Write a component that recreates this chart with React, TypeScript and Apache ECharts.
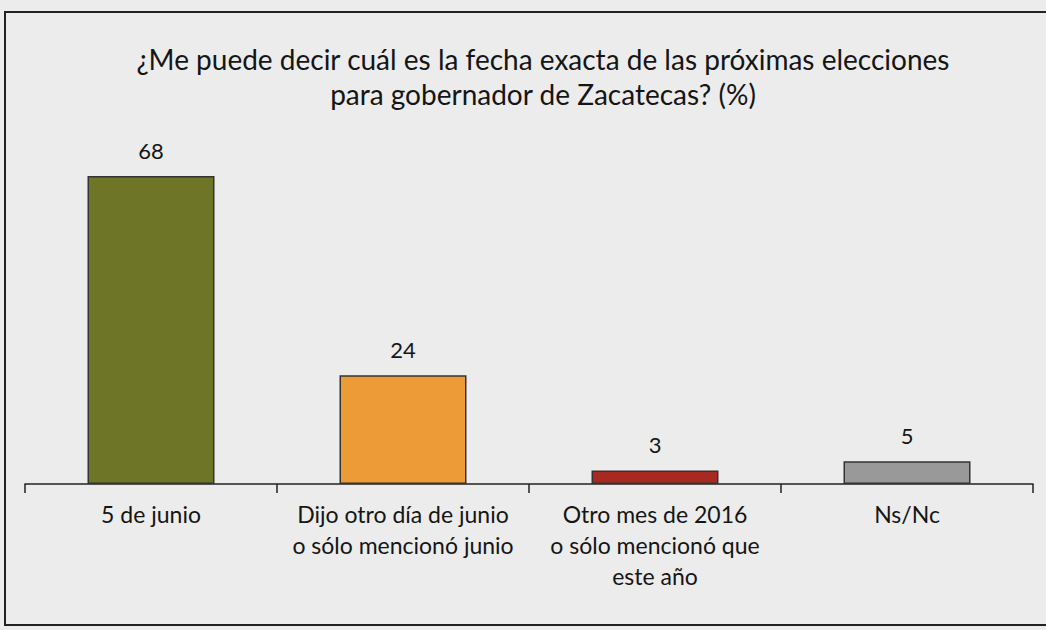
import React, { useEffect, useRef } from "react";
import * as echarts from "echarts";

const titleLines = [
  "¿Me puede decir cuál es la fecha exacta de las próximas elecciones",
  "para gobernador de Zacatecas? (%)",
];
const categories = [
  "5 de junio",
  "Dijo otro día de junio\no sólo mencionó junio",
  "Otro mes de 2016\no sólo mencionó que\neste año",
  "Ns/Nc",
];
const values = [68, 24, 3, 5];
const barColors = ["#6e7527", "#ec9b36", "#a8291f", "#999999"];

export default function App() {
  const ref = useRef<HTMLDivElement>(null);
  useEffect(() => {
    document.body.style.margin = "0";
    const chart = echarts.init(ref.current!, null, { renderer: "svg" });
    chart.setOption({
      animation: false,
      backgroundColor: "#ececec",
      grid: { left: 25, right: 13, top: 167, bottom: 146 },
      xAxis: {
        type: "category",
        data: categories,
        axisLine: { lineStyle: { color: "#222", width: 1.5 } },
        axisTick: { show: true, length: 9, lineStyle: { color: "#222", width: 1.5 } },
        axisLabel: {
          fontFamily: "Lato",
          fontSize: 23,
          color: "#151515",
          lineHeight: 31,
          margin: 14,
          interval: 0,
        },
      },
      yAxis: {
        type: "value",
        min: 0,
        max: 70,
        show: false,
        splitLine: { show: false },
      },
      series: [
        {
          type: "bar",
          barWidth: 127,
          data: values.map((v, i) => ({
            value: v,
            itemStyle: { color: barColors[i] },
          })),
          itemStyle: { borderColor: "#333", borderWidth: 1.5 },
          label: {
            show: true,
            position: "top",
            distance: 15,
            fontFamily: "Lato",
            fontSize: 22,
            color: "#151515",
          },
        },
      ],
      graphic: [
        {
          type: "text",
          x: 543,
          y: 41,
          style: {
            text: titleLines.join("\n"),
            align: "center",
            verticalAlign: "top",
            fontFamily: "Lato",
            fontSize: 28,
            lineHeight: 35,
            fill: "#151515",
          },
        },
        {
          type: "polyline",
          shape: { points: [[1046, 12], [5, 12], [5, 625], [1046, 625]] },
          style: { stroke: "#222", lineWidth: 2, fill: "none" },
        },
      ],
    });
    return () => chart.dispose();
  }, []);
  return (
    <div
      ref={ref}
      style={{ position: "fixed", left: 0, top: 0, width: 1046, height: 630 }}
    />
  );
}
